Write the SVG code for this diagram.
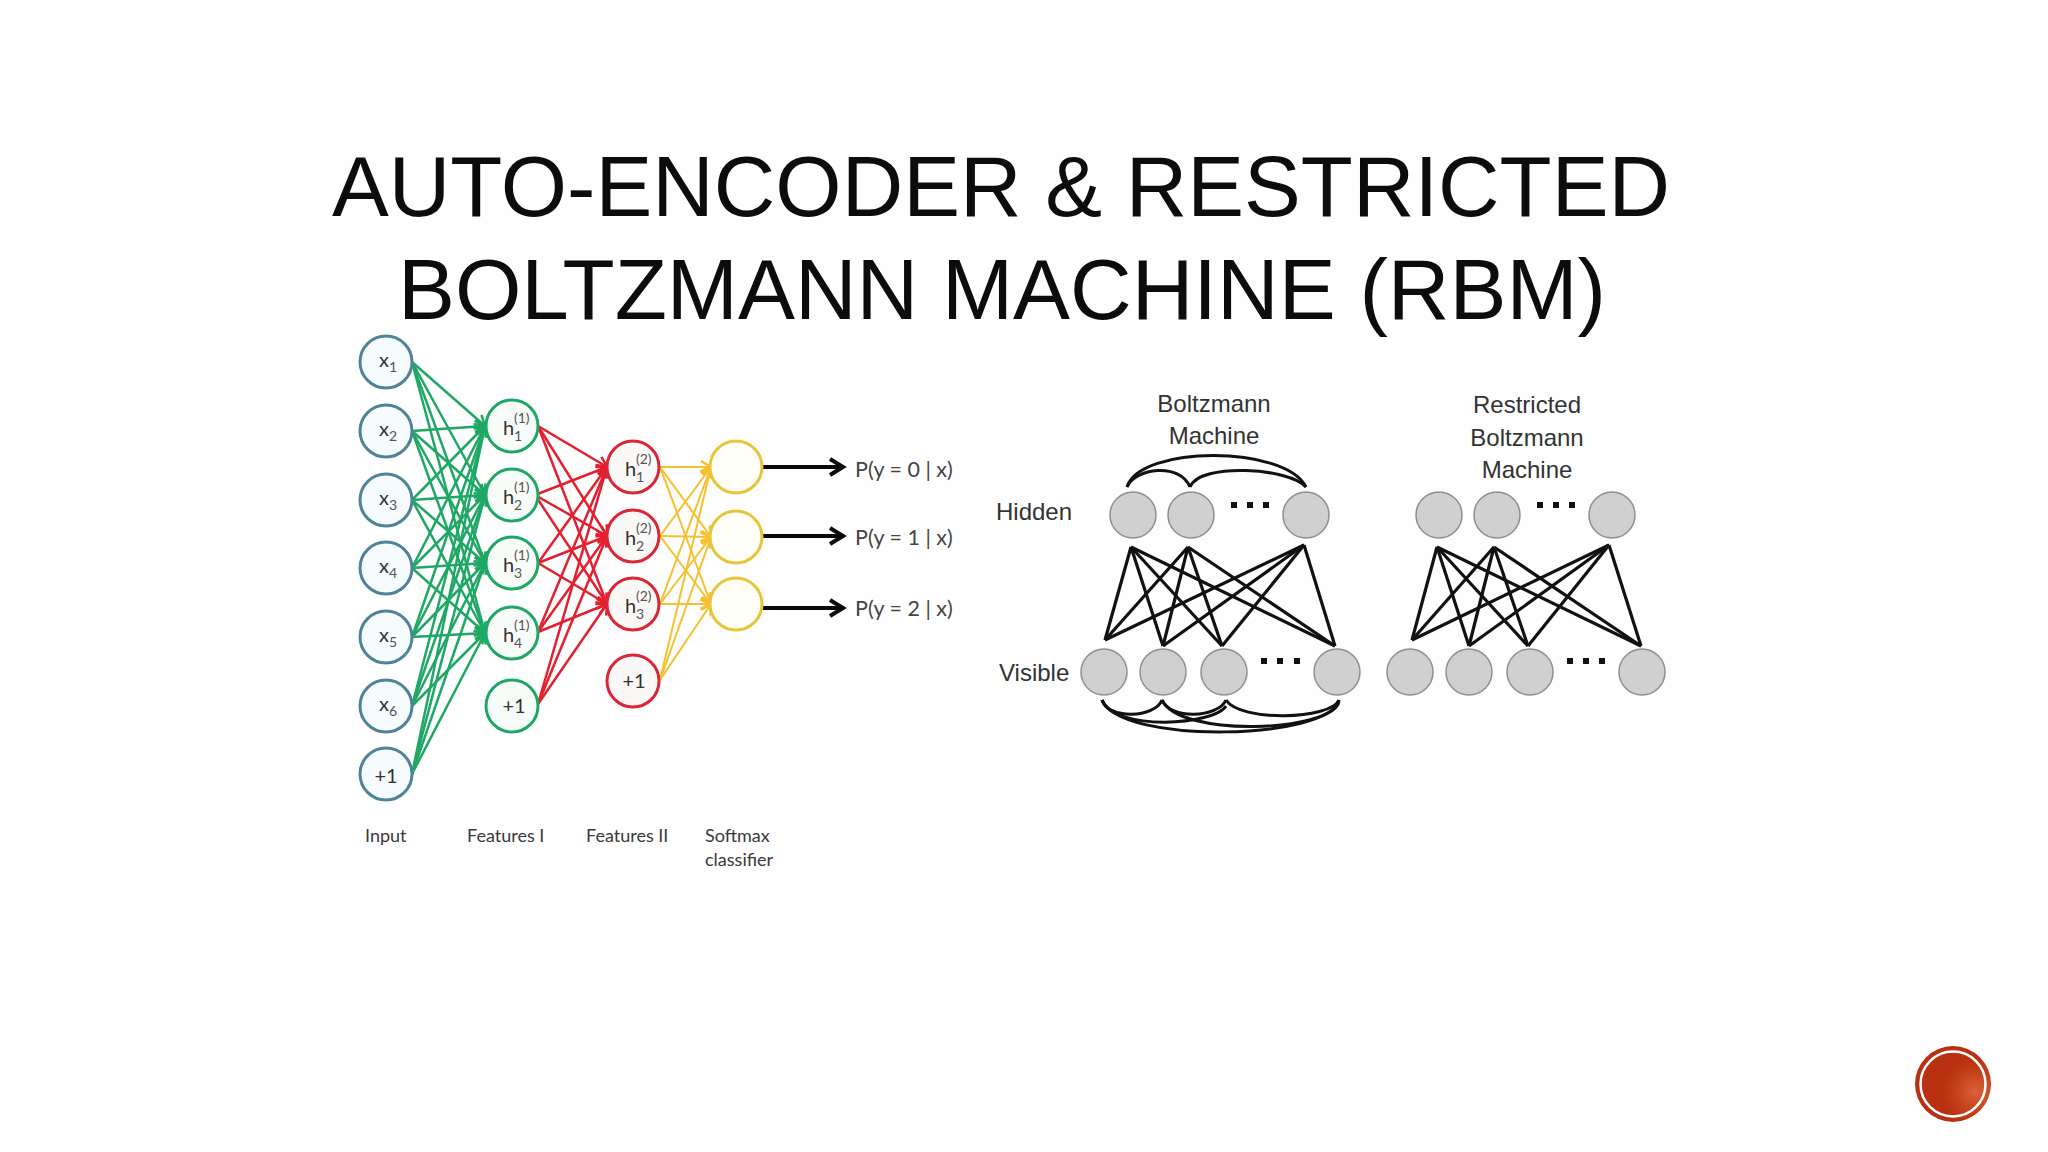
<svg xmlns="http://www.w3.org/2000/svg" width="2048" height="1152" viewBox="0 0 2048 1152">
<style>
.title{font-family:"Liberation Sans",Arial,sans-serif;font-size:85px;fill:#0c0c0c;text-anchor:middle}
.lab{font-family:Lato,"Open Sans",sans-serif;fill:#3a3a3a}
.cap{font-size:18px}
.big{font-size:20px;fill:#333}
.sm{font-size:14px;fill:#555}
.prob{font-size:21.5px;fill:#444}
.bm{font-family:"Liberation Sans",Arial,sans-serif;font-size:24px;fill:#333}
.mid{text-anchor:middle}
.in{fill:#f6fbfd;stroke:#4f8398;stroke-width:3}
.f1{fill:#f8fcf9;stroke:#1fa865;stroke-width:3}
.f2{fill:#fbf8f8;stroke:#dc2536;stroke-width:3}
.sf{fill:#fffef8;stroke:#e8c63c;stroke-width:3}
.gr{fill:#d0d0d0;stroke:#8f8f8f;stroke-width:1.5}
.g line{stroke:#1fa865;stroke-width:2.5;marker-end:url(#ag)}
.r line{stroke:#e3202f;stroke-width:2.5;marker-end:url(#ar)}
.y line{stroke:#f6c02e;stroke-width:2;marker-end:url(#ay)}
.o line{stroke:#0a0a0a;stroke-width:4;marker-end:url(#ak)}
.b line{stroke:#111;stroke-width:3.2}
.arc path{fill:none;stroke:#111;stroke-width:3}
.dot{fill:#111}
</style>
<defs>
<marker id="ag" markerUnits="userSpaceOnUse" markerWidth="16" markerHeight="16" refX="13" refY="8" orient="auto"><path d="M3 2L13 8L3 14" fill="none" stroke="#1fa865" stroke-width="2.5"/></marker>
<marker id="ar" markerUnits="userSpaceOnUse" markerWidth="16" markerHeight="16" refX="13" refY="8" orient="auto"><path d="M3 2L13 8L3 14" fill="none" stroke="#e3202f" stroke-width="2.5"/></marker>
<marker id="ay" markerUnits="userSpaceOnUse" markerWidth="16" markerHeight="16" refX="13" refY="8" orient="auto"><path d="M3 2L13 8L3 14" fill="none" stroke="#f6c02e" stroke-width="2.5"/></marker>
<marker id="ak" markerUnits="userSpaceOnUse" markerWidth="20" markerHeight="20" refX="16" refY="10" orient="auto"><path d="M3 2L16 10L3 18" fill="none" stroke="#0a0a0a" stroke-width="4"/></marker>
<radialGradient id="badge" cx="0.8" cy="0.6" r="0.45"><stop offset="0" stop-color="#d9623a"/><stop offset="0.6" stop-color="#c4401a"/><stop offset="1" stop-color="#b8300f"/></radialGradient>
</defs>
<rect width="2048" height="1152" fill="#fefefe"/>
<g id="title">
<text class="title" x="1001" y="216" textLength="1338" lengthAdjust="spacingAndGlyphs">AUTO-ENCODER &amp; RESTRICTED</text>
<text class="title" x="1002" y="319" textLength="1208" lengthAdjust="spacingAndGlyphs">BOLTZMANN MACHINE (RBM)</text>
</g>
<g id="connectors">
<g class="g">
<line x1="412" y1="362" x2="485" y2="426"/><line x1="412" y1="362" x2="485" y2="495"/><line x1="412" y1="362" x2="485" y2="563"/><line x1="412" y1="362" x2="485" y2="633"/>
<line x1="412" y1="431" x2="485" y2="426"/><line x1="412" y1="431" x2="485" y2="495"/><line x1="412" y1="431" x2="485" y2="563"/><line x1="412" y1="431" x2="485" y2="633"/>
<line x1="412" y1="500" x2="485" y2="426"/><line x1="412" y1="500" x2="485" y2="495"/><line x1="412" y1="500" x2="485" y2="563"/><line x1="412" y1="500" x2="485" y2="633"/>
<line x1="412" y1="568" x2="485" y2="426"/><line x1="412" y1="568" x2="485" y2="495"/><line x1="412" y1="568" x2="485" y2="563"/><line x1="412" y1="568" x2="485" y2="633"/>
<line x1="412" y1="637" x2="485" y2="426"/><line x1="412" y1="637" x2="485" y2="495"/><line x1="412" y1="637" x2="485" y2="563"/><line x1="412" y1="637" x2="485" y2="633"/>
<line x1="412" y1="706" x2="485" y2="426"/><line x1="412" y1="706" x2="485" y2="495"/><line x1="412" y1="706" x2="485" y2="563"/><line x1="412" y1="706" x2="485" y2="633"/>
<line x1="412" y1="774" x2="485" y2="426"/><line x1="412" y1="774" x2="485" y2="495"/><line x1="412" y1="774" x2="485" y2="563"/><line x1="412" y1="774" x2="485" y2="633"/>
</g>
<g class="r">
<line x1="538" y1="426" x2="607" y2="467"/><line x1="538" y1="426" x2="607" y2="536"/><line x1="538" y1="426" x2="607" y2="604"/>
<line x1="535" y1="495" x2="607" y2="467"/><line x1="535" y1="495" x2="607" y2="536"/><line x1="535" y1="495" x2="607" y2="604"/>
<line x1="538" y1="563" x2="607" y2="467"/><line x1="538" y1="563" x2="607" y2="536"/><line x1="538" y1="563" x2="607" y2="604"/>
<line x1="538" y1="632" x2="607" y2="467"/><line x1="538" y1="632" x2="607" y2="536"/><line x1="538" y1="632" x2="607" y2="604"/>
<line x1="538" y1="704" x2="607" y2="467"/><line x1="538" y1="704" x2="607" y2="536"/><line x1="538" y1="704" x2="607" y2="604"/>
</g>
<g class="y">
<line x1="660" y1="467" x2="711" y2="467"/><line x1="660" y1="467" x2="711" y2="537"/><line x1="660" y1="467" x2="711" y2="604"/>
<line x1="660" y1="536" x2="711" y2="467"/><line x1="660" y1="536" x2="711" y2="537"/><line x1="660" y1="536" x2="711" y2="604"/>
<line x1="660" y1="604" x2="711" y2="467"/><line x1="660" y1="604" x2="711" y2="537"/><line x1="660" y1="604" x2="711" y2="604"/>
<line x1="660" y1="680" x2="711" y2="467"/><line x1="660" y1="680" x2="711" y2="537"/><line x1="660" y1="680" x2="711" y2="604"/>
</g>
<g class="o">
<line x1="762" y1="467" x2="843" y2="467"/><line x1="762" y1="536" x2="843" y2="536"/><line x1="762" y1="608" x2="843" y2="608"/>
</g>
<g class="b">
<line x1="1131" y1="547" x2="1105" y2="640"/><line x1="1131" y1="547" x2="1163" y2="646"/><line x1="1131" y1="547" x2="1222" y2="646"/><line x1="1131" y1="547" x2="1335" y2="646"/>
<line x1="1188" y1="547" x2="1105" y2="640"/><line x1="1188" y1="547" x2="1163" y2="646"/><line x1="1188" y1="547" x2="1222" y2="646"/><line x1="1188" y1="547" x2="1335" y2="646"/>
<line x1="1304" y1="545" x2="1105" y2="640"/><line x1="1304" y1="545" x2="1163" y2="646"/><line x1="1304" y1="545" x2="1222" y2="646"/><line x1="1304" y1="545" x2="1335" y2="646"/>
<line x1="1437" y1="547" x2="1412" y2="640"/><line x1="1437" y1="547" x2="1469" y2="646"/><line x1="1437" y1="547" x2="1528" y2="646"/><line x1="1437" y1="547" x2="1641" y2="646"/>
<line x1="1494" y1="547" x2="1412" y2="640"/><line x1="1494" y1="547" x2="1469" y2="646"/><line x1="1494" y1="547" x2="1528" y2="646"/><line x1="1494" y1="547" x2="1641" y2="646"/>
<line x1="1609" y1="545" x2="1412" y2="640"/><line x1="1609" y1="545" x2="1469" y2="646"/><line x1="1609" y1="545" x2="1528" y2="646"/><line x1="1609" y1="545" x2="1641" y2="646"/>
</g>
<g class="arc">
<path d="M1127 487C1140 445 1285 445 1306 487"/>
<path d="M1127 487C1135 468 1180 462 1190 487"/>
<path d="M1190 487C1200 462 1290 468 1306 487"/>
<path d="M1102 700C1108 720 1155 718 1162 700"/>
<path d="M1162 700C1170 720 1218 718 1226 700"/>
<path d="M1226 700C1240 722 1330 720 1339 700"/>
<path d="M1102 700C1115 732 1215 725 1226 706"/>
<path d="M1102 700C1120 745 1330 740 1339 700"/>
<path d="M1162 700C1180 738 1330 732 1339 702"/>
</g>
</g>
<g id="x1"><circle class="in" cx="386" cy="362" r="26"/><text class="lab big" x="379" y="367">x<tspan class="sm" x="389" y="372">1</tspan></text></g>
<g id="x2"><circle class="in" cx="386" cy="431" r="26"/><text class="lab big" x="379" y="436">x<tspan class="sm" x="389" y="441">2</tspan></text></g>
<g id="x3"><circle class="in" cx="386" cy="500" r="26"/><text class="lab big" x="379" y="505">x<tspan class="sm" x="389" y="510">3</tspan></text></g>
<g id="x4"><circle class="in" cx="386" cy="568" r="26"/><text class="lab big" x="379" y="573">x<tspan class="sm" x="389" y="578">4</tspan></text></g>
<g id="x5"><circle class="in" cx="386" cy="637" r="26"/><text class="lab big" x="379" y="642">x<tspan class="sm" x="389" y="647">5</tspan></text></g>
<g id="x6"><circle class="in" cx="386" cy="706" r="26"/><text class="lab big" x="379" y="711">x<tspan class="sm" x="389" y="716">6</tspan></text></g>
<g id="x7"><circle class="in" cx="386" cy="774" r="26"/><text class="lab big mid" x="386" y="783">+1</text></g>
<g id="h11"><circle class="f1" cx="512" cy="426" r="26"/><text class="lab big" x="503" y="435">h<tspan class="sm" x="514" y="423">(1)</tspan><tspan class="sm" x="514" y="441">1</tspan></text></g>
<g id="h12"><circle class="f1" cx="512" cy="495" r="26"/><text class="lab big" x="503" y="504">h<tspan class="sm" x="514" y="492">(1)</tspan><tspan class="sm" x="514" y="510">2</tspan></text></g>
<g id="h13"><circle class="f1" cx="512" cy="563" r="26"/><text class="lab big" x="503" y="572">h<tspan class="sm" x="514" y="560">(1)</tspan><tspan class="sm" x="514" y="578">3</tspan></text></g>
<g id="h14"><circle class="f1" cx="512" cy="633" r="26"/><text class="lab big" x="503" y="642">h<tspan class="sm" x="514" y="630">(1)</tspan><tspan class="sm" x="514" y="648">4</tspan></text></g>
<g id="b1"><circle class="f1" cx="512" cy="706" r="26"/><text class="lab big mid" x="514" y="713">+1</text></g>
<g id="h21"><circle class="f2" cx="633" cy="467" r="26"/><text class="lab big" x="625" y="476">h<tspan class="sm" x="636" y="464">(2)</tspan><tspan class="sm" x="636" y="482">1</tspan></text></g>
<g id="h22"><circle class="f2" cx="633" cy="536" r="26"/><text class="lab big" x="625" y="545">h<tspan class="sm" x="636" y="533">(2)</tspan><tspan class="sm" x="636" y="551">2</tspan></text></g>
<g id="h23"><circle class="f2" cx="633" cy="604" r="26"/><text class="lab big" x="625" y="613">h<tspan class="sm" x="636" y="601">(2)</tspan><tspan class="sm" x="636" y="619">3</tspan></text></g>
<g id="b2"><circle class="f2" cx="633" cy="681" r="26"/><text class="lab big mid" x="634" y="688">+1</text></g>
<g id="s1"><circle class="sf" cx="736" cy="467" r="26"/></g>
<g id="s2"><circle class="sf" cx="736" cy="537" r="26"/></g>
<g id="s3"><circle class="sf" cx="736" cy="604" r="26"/></g>
<g id="labels">
<text class="lab prob" x="855" y="477">P(y = 0 | x)</text>
<text class="lab prob" x="855" y="545">P(y = 1 | x)</text>
<text class="lab prob" x="855" y="616">P(y = 2 | x)</text>
<text class="lab cap" x="365" y="842">Input</text>
<text class="lab cap" x="467" y="842">Features I</text>
<text class="lab cap" x="586" y="842">Features II</text>
<text class="lab cap" x="705" y="842">Softmax</text>
<text class="lab cap" x="705" y="866">classifier</text>
<text class="bm mid" x="1214" y="412">Boltzmann</text>
<text class="bm mid" x="1214" y="444">Machine</text>
<text class="bm" x="996" y="520">Hidden</text>
<text class="bm" x="999" y="681">Visible</text>
<text class="bm mid" x="1527" y="413">Restricted</text>
<text class="bm mid" x="1527" y="446">Boltzmann</text>
<text class="bm mid" x="1527" y="478">Machine</text>
</g>
<g id="bm-hidden"><circle class="gr" cx="1133" cy="515" r="23"/><circle class="gr" cx="1191" cy="515" r="23"/><circle class="gr" cx="1306" cy="515" r="23"/><rect class="dot" x="1231" y="502" width="6" height="6"/><rect class="dot" x="1247" y="502" width="6" height="6"/><rect class="dot" x="1263" y="502" width="6" height="6"/></g>
<g id="bm-visible"><circle class="gr" cx="1104" cy="672" r="23"/><circle class="gr" cx="1163" cy="672" r="23"/><circle class="gr" cx="1224" cy="672" r="23"/><circle class="gr" cx="1337" cy="672" r="23"/><rect class="dot" x="1261" y="658" width="6" height="6"/><rect class="dot" x="1277" y="658" width="6" height="6"/><rect class="dot" x="1294" y="658" width="6" height="6"/></g>
<g id="rbm-hidden"><circle class="gr" cx="1439" cy="515" r="23"/><circle class="gr" cx="1497" cy="515" r="23"/><circle class="gr" cx="1612" cy="515" r="23"/><rect class="dot" x="1537" y="502" width="6" height="6"/><rect class="dot" x="1553" y="502" width="6" height="6"/><rect class="dot" x="1569" y="502" width="6" height="6"/></g>
<g id="rbm-visible"><circle class="gr" cx="1410" cy="672" r="23"/><circle class="gr" cx="1469" cy="672" r="23"/><circle class="gr" cx="1530" cy="672" r="23"/><circle class="gr" cx="1642" cy="672" r="23"/><rect class="dot" x="1567" y="658" width="6" height="6"/><rect class="dot" x="1583" y="658" width="6" height="6"/><rect class="dot" x="1599" y="658" width="6" height="6"/></g>
<g id="badge-mark"><circle cx="1953" cy="1084" r="38" fill="url(#badge)"/><circle cx="1953" cy="1084" r="32.5" fill="none" stroke="#fff" stroke-width="2.5"/></g>
</svg>
